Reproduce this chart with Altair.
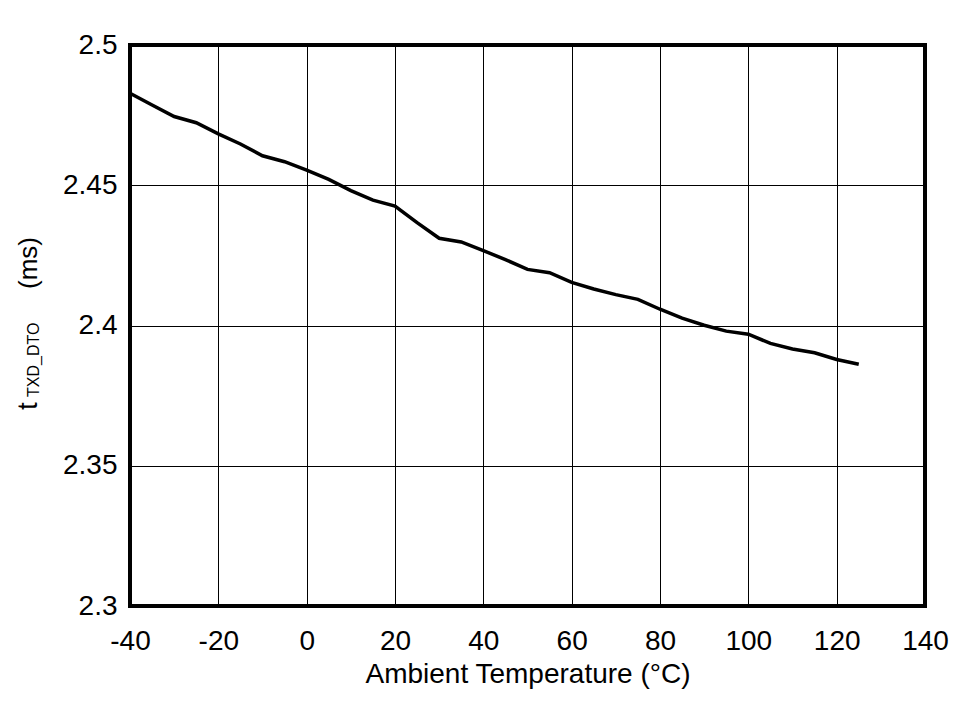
import altair as alt
import pandas as pd

temps = [-40, -35, -30, -25, -20, -15, -10, -5, 0, 5, 10, 15, 20, 25, 30, 35, 40,
         45, 50, 55, 60, 65, 70, 75, 80, 85, 90, 95, 100, 105, 110, 115, 120, 125]
t_dto = [2.4828, 2.4786, 2.4745, 2.4723, 2.4683, 2.4647, 2.4605, 2.4584, 2.4554,
         2.4521, 2.4481, 2.4447, 2.4426, 2.4367, 2.4311, 2.4298, 2.4267, 2.4235,
         2.4200, 2.4188, 2.4154, 2.4130, 2.4110, 2.4093, 2.4058, 2.4026, 2.4001,
         2.3980, 2.3969, 2.3936, 2.3916, 2.3903, 2.3879, 2.3862]
x_ticks = [-40, -20, 0, 20, 40, 60, 80, 100, 120, 140]
y_ticks = [2.3, 2.35, 2.4, 2.45, 2.5]
x_title = "Ambient Temperature (°C)"
y_title_main = "t"
y_title_sub = "TXD_DTO"
y_title_unit = "(ms)"

df = pd.DataFrame({"temp": temps, "t": t_dto})
FONT = "Liberation Sans"

line = alt.Chart(df).mark_line(color="black", strokeWidth=3.5).encode(
    x=alt.X("temp:Q", scale=alt.Scale(domain=[-40, 140], nice=False),
            axis=alt.Axis(values=x_ticks, title=x_title, grid=True, gridColor="black",
                          gridOpacity=1, gridWidth=1, ticks=False, domain=False,
                          labelExpr="'' + datum.value",
                          labelFontSize=28, labelFont=FONT, labelColor="black",
                          labelPadding=21, labelFlush=False, labelOverlap=False,
                          titleFontSize=28, titleFont=FONT, titleFontWeight="normal",
                          titleColor="black", titleY=76, titleBaseline="alphabetic")),
    y=alt.Y("t:Q", scale=alt.Scale(domain=[2.3, 2.5], nice=False, zero=False),
            axis=alt.Axis(values=y_ticks, title=None, grid=True,
                          labelExpr="'' + datum.value",
                          gridColor="black", gridOpacity=1, gridWidth=1, ticks=False,
                          domain=False, labelFontSize=28, labelFont=FONT,
                          labelColor="black", labelPadding=13, labelFlush=False,
                          labelOverlap=False)),
)

one = pd.DataFrame({"k": [0]})
t_main = alt.Chart(one).mark_text(angle=270, align="left", baseline="alphabetic",
                                  fontSize=28, font=FONT, color="black").encode(
    x=alt.value(-93), y=alt.value(365), text=alt.value(y_title_main))
t_sub = alt.Chart(one).mark_text(angle=270, align="left", baseline="alphabetic",
                                 fontSize=16, font=FONT, color="black").encode(
    x=alt.value(-91.5), y=alt.value(352), text=alt.value(y_title_sub))
t_unit = alt.Chart(one).mark_text(angle=270, align="left", baseline="alphabetic",
                                  fontSize=26, font=FONT, color="black").encode(
    x=alt.value(-93), y=alt.value(244), text=alt.value(y_title_unit))

chart = alt.layer(line, t_main, t_sub, t_unit).properties(
    width=795, height=561,
    background="white",
    autosize=alt.AutoSizeParams(type="none"),
    padding={"left": 122, "top": 37, "right": 30, "bottom": 92},
).configure_view(stroke="black", strokeWidth=4)

chart.save("out.html", embed_options={"renderer": "svg", "actions": False})
